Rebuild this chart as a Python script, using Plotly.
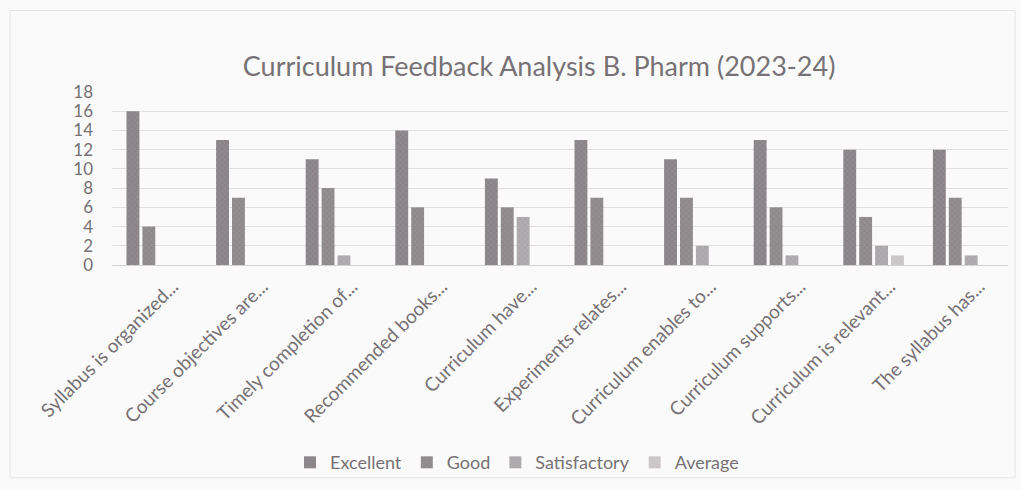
import plotly.graph_objects as go

# Survey statements (truncated as shown on the axis)
categories = [
    "Syllabus is organized...",
    "Course objectives are...",
    "Timely completion of...",
    "Recommended books...",
    "Curriculum have...",
    "Experiments relates...",
    "Curriculum enables to...",
    "Curriculum supports...",
    "Curriculum is relevant...",
    "The syllabus has...",
]

# Response counts per rating
excellent = [16, 13, 11, 14, 9, 13, 11, 13, 12, 12]
good = [4, 7, 8, 6, 6, 7, 7, 6, 5, 7]
satisfactory = [0, 0, 1, 0, 5, 0, 2, 1, 2, 1]
average = [0, 0, 0, 0, 0, 0, 0, 0, 1, 0]

y_ticks = list(range(0, 19, 2))

FONT = "Lato, 'Open Sans', sans-serif"
TEXT = "#767174"

series = [
    ("Excellent", excellent, "#8a8387", "#a9a3a6", "x"),
    ("Good", good, "#8f898c", "#aaa4a7", "x"),
    ("Satisfactory", satisfactory, "#aca7aa", "#c4bfc2", "x"),
    ("Average", average, "#c9c5c7", "#dcd8da", "x"),
]

fig = go.Figure()
for name, vals, color, fg, shape in series:
    fig.add_trace(go.Bar(
        x=categories,
        y=vals,
        name=name,
        marker=dict(
            color=color,
            line=dict(width=0),
            pattern=dict(shape=shape, fgcolor=fg, size=4, solidity=0.25),
        ),
    ))

fig.update_layout(
    width=1021,
    height=490,
    margin=dict(l=112, r=13, t=92, b=224),
    paper_bgcolor="#fbfafa",
    plot_bgcolor="#fbfafa",
    barmode="group",
    bargap=0.29,
    bargroupgap=0.19,
    font=dict(family=FONT, color=TEXT, size=14),
    title=dict(
        text="Curriculum Feedback Analysis B. Pharm (2023-24)",
        x=0.528, xref="container", xanchor="center",
        y=0.865, yref="container", yanchor="middle",
        font=dict(family=FONT, size=27, color="#767275"),
    ),
    showlegend=True,
    legend=dict(
        orientation="h",
        x=0.452, xanchor="center",
        y=-1.13, yanchor="middle",
        font=dict(family=FONT, size=18, color=TEXT),
        itemwidth=30,
        bgcolor="rgba(0,0,0,0)",
    ),
    xaxis=dict(
        tickangle=-45,
        tickfont=dict(family=FONT, size=19, color=TEXT),
        ticklabelshift=16,
        ticklabelstandoff=2,
        showgrid=False,
        showline=True,
        linecolor="#d4d1d3",
        linewidth=1,
        ticks="",
    ),
    yaxis=dict(
        range=[0, 18],
        tickvals=y_ticks,
        tickfont=dict(family=FONT, size=17, color=TEXT),
        showgrid=True,
        gridcolor="#e2dfe1",
        gridwidth=1,
        zeroline=False,
        showline=False,
        ticks="",
        ticklabelstandoff=18,
    ),
    shapes=[
        dict(
            type="rect", xref="paper", yref="paper",
            x0=-0.1138, x1=1.0078, y0=-1.23, y1=1.471,
            line=dict(color="#e6e3e5", width=1),
            fillcolor="rgba(0,0,0,0)",
            layer="below",
        )
    ],
)

fig.write_html("out.html")
